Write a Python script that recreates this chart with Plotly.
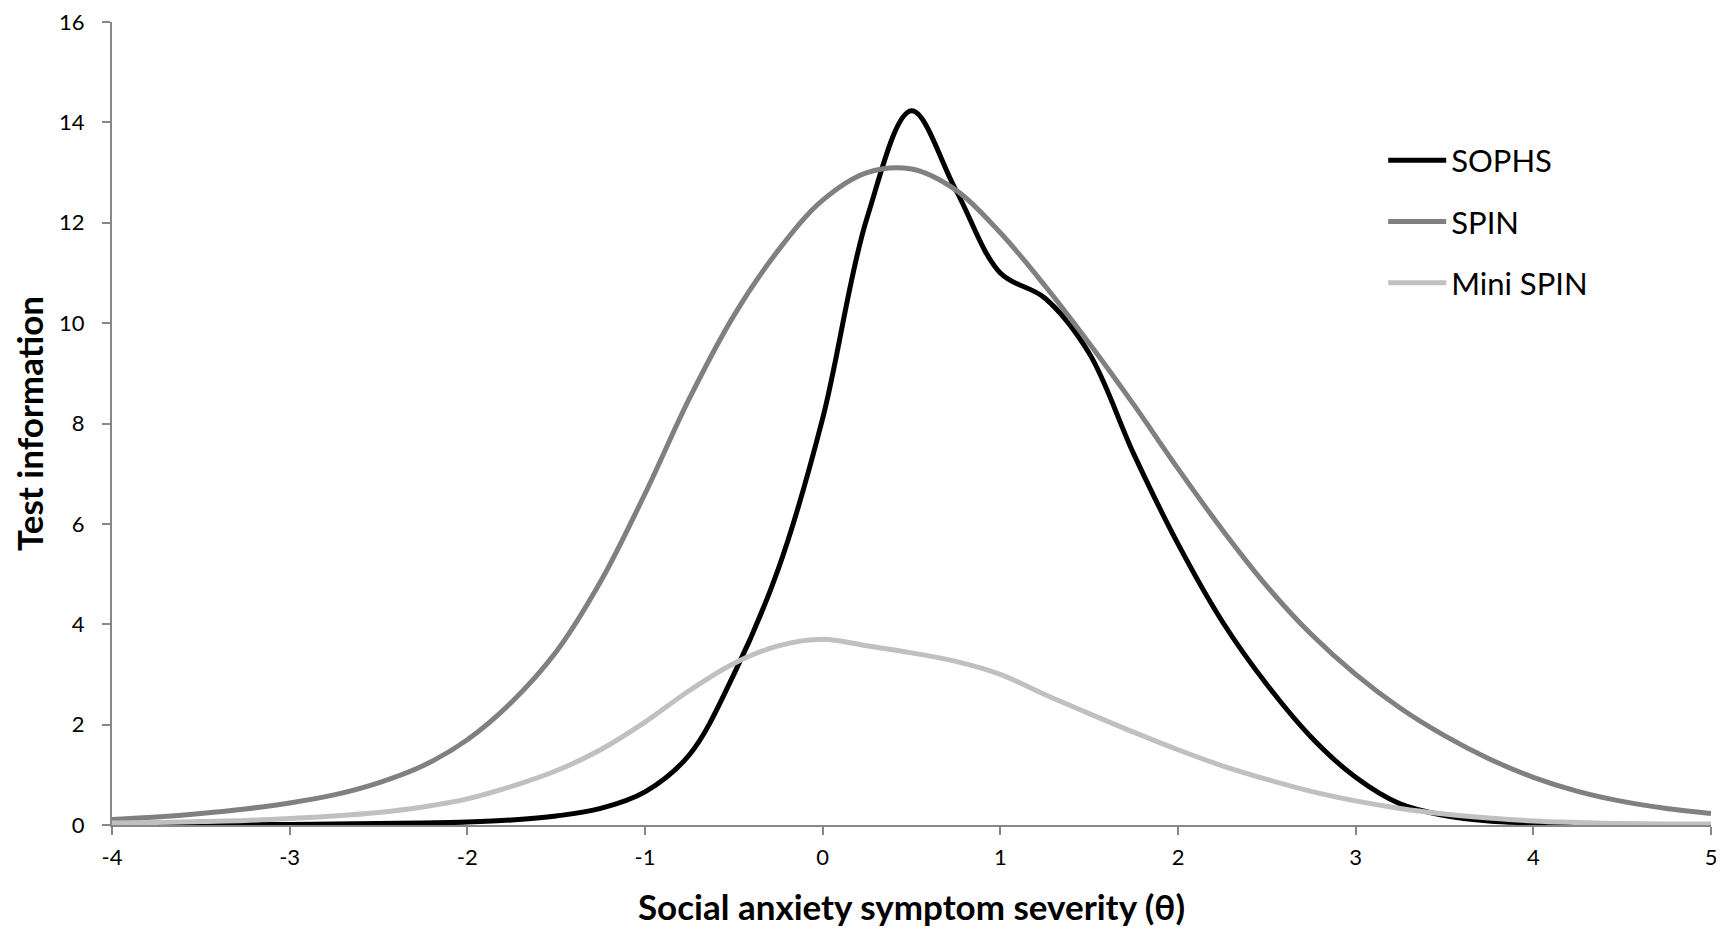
import plotly.graph_objects as go

theta = [-4.0, -3.75, -3.5, -3.25, -3.0, -2.75, -2.5, -2.25, -2.0, -1.75, -1.5, -1.25,
         -1.0, -0.75, -0.5, -0.25, 0.0, 0.25, 0.5, 0.75, 1.0, 1.25, 1.5, 1.75,
         2.0, 2.25, 2.5, 2.75, 3.0, 3.25, 3.5, 3.75, 4.0, 4.25, 4.5, 4.75, 5.0]

sophs = [0.00, 0.00, 0.00, 0.01, 0.01, 0.02, 0.03, 0.04, 0.06, 0.10, 0.18, 0.33,
         0.66, 1.40, 3.0, 5.1, 8.1, 12.1, 14.23, 12.65, 11.0, 10.5, 9.4, 7.4,
         5.6, 4.05, 2.8, 1.75, 0.95, 0.42, 0.19, 0.08, 0.04, 0.02, 0.01, 0.01, 0.0]

spin = [0.11, 0.16, 0.23, 0.32, 0.44, 0.60, 0.84, 1.18, 1.70, 2.45, 3.45, 4.85,
        6.6, 8.5, 10.15, 11.45, 12.45, 13.0, 13.07, 12.65, 11.8, 10.75, 9.6, 8.38,
        7.1, 5.88, 4.76, 3.8, 3.0, 2.33, 1.78, 1.32, 0.95, 0.67, 0.47, 0.33, 0.23]

mini_spin = [0.04, 0.05, 0.07, 0.09, 0.13, 0.18, 0.25, 0.36, 0.52, 0.77, 1.08, 1.50,
             2.05, 2.68, 3.22, 3.57, 3.7, 3.57, 3.43, 3.26, 3.0, 2.6, 2.22, 1.85,
             1.5, 1.18, 0.91, 0.67, 0.48, 0.33, 0.22, 0.14, 0.08, 0.05, 0.03, 0.02, 0.02]

series_names = ["SOPHS", "SPIN", "Mini SPIN"]
series_colors = ["#000000", "#808080", "#C0C0C0"]

x_ticks = [-4, -3, -2, -1, 0, 1, 2, 3, 4, 5]
x_tick_labels = ["-4", "-3", "-2", "-1", "0", "1", "2", "3", "4", "5"]
y_ticks = [0, 2, 4, 6, 8, 10, 12, 14, 16]

FONT = "Lato, 'Open Sans', sans-serif"

fig = go.Figure()
for name, vals, col in zip(series_names, [sophs, spin, mini_spin], series_colors):
    fig.add_trace(go.Scatter(
        x=theta, y=vals, name=name, mode="lines",
        line=dict(color=col, width=5, shape="spline", smoothing=1.0),
        legendgroup=name,
    ))

axis_col = "#878787"
fig.update_layout(
    width=1716, height=921,
    margin=dict(l=104, r=13, t=14, b=104, autoexpand=False),
    paper_bgcolor="white", plot_bgcolor="white",
    font=dict(family=FONT, color="#000000", size=22),
    showlegend=True,
    legend=dict(
        x=0.795, y=0.861, xanchor="left", yanchor="top",
        font=dict(family=FONT, size=31, color="#000000"),
        bgcolor="rgba(0,0,0,0)", tracegroupgap=18, itemwidth=58,
    ),
    xaxis=dict(
        range=[-4, 5], tickmode="array", tickvals=x_ticks, ticktext=x_tick_labels,
        showline=True, linecolor=axis_col, linewidth=2, ticks="outside",
        tickcolor=axis_col, ticklen=8, tickwidth=2, showgrid=False, zeroline=False,
        tickfont=dict(family=FONT, size=22), ticklabelstandoff=4, automargin=False,
        ticklabeloverflow="allow",
        title=dict(text="<b>Social anxiety symptom severity (θ)</b>",
                   font=dict(family=FONT, size=35), standoff=26),
    ),
    yaxis=dict(
        range=[0, 16], tickmode="array", tickvals=y_ticks,
        showline=True, linecolor=axis_col, linewidth=2, ticks="outside",
        tickcolor=axis_col, ticklen=8, tickwidth=2, showgrid=False, zeroline=False,
        tickfont=dict(family=FONT, size=22), ticklabelstandoff=13, automargin=False,
        ticklabeloverflow="allow",
        title=dict(text="<b>Test information</b>",
                   font=dict(family=FONT, size=35), standoff=9),
    ),
)

fig.write_html("out.html")
